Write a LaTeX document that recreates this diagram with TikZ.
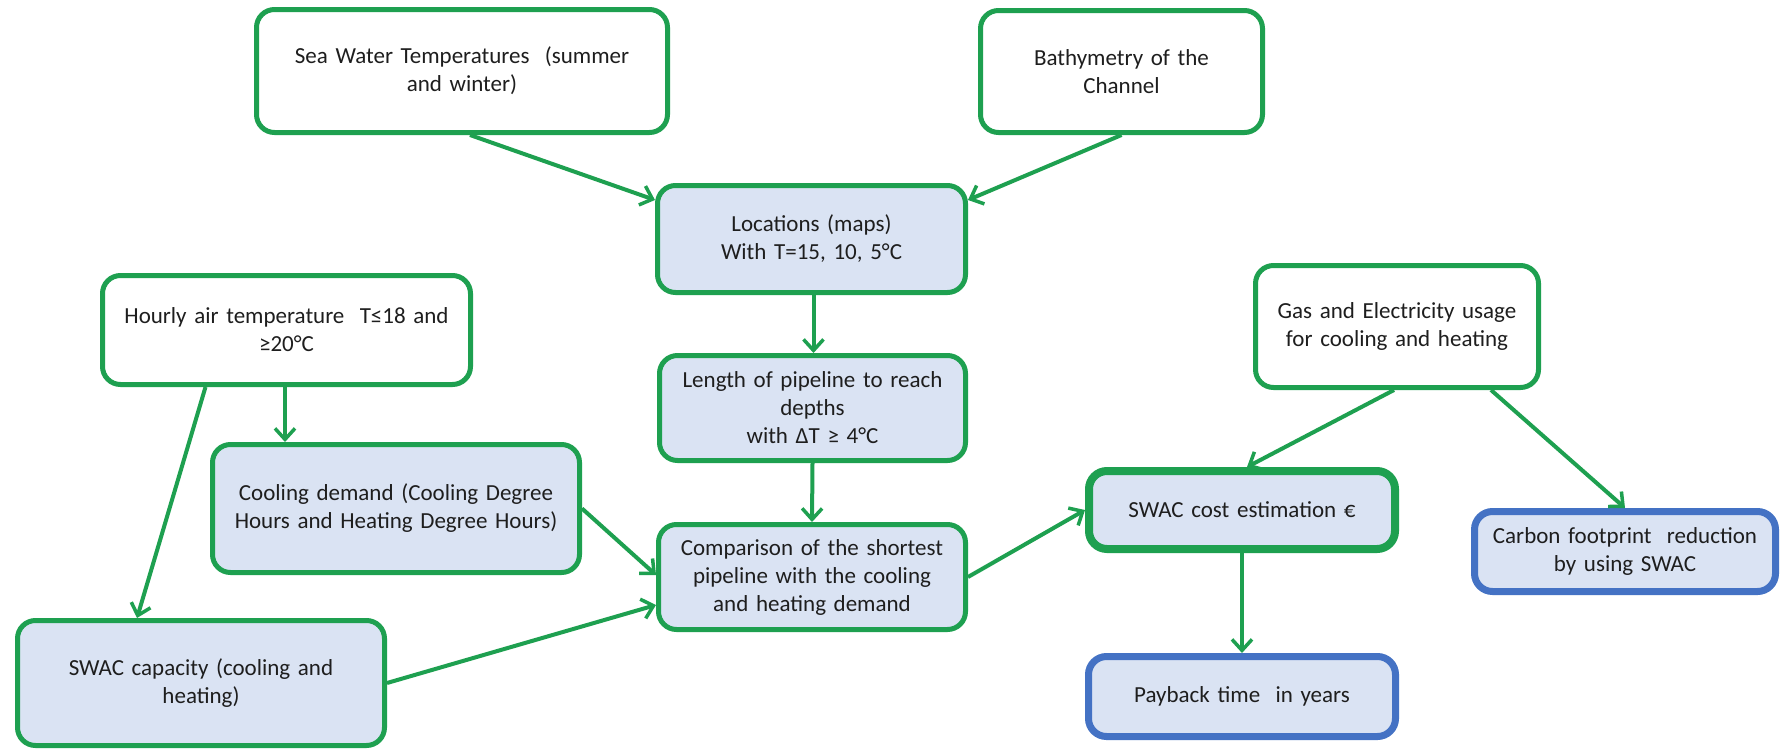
\documentclass[tikz,border=0pt]{standalone}
\usepackage{fontspec}
\setmainfont{Carlito}
\usetikzlibrary{arrows.meta}
\definecolor{boxgreen}{RGB}{30,160,80}
\definecolor{boxfill}{RGB}{218,227,243}
\definecolor{boxblue}{RGB}{68,114,196}
\definecolor{txt}{RGB}{30,30,30}
\begin{document}
\begin{tikzpicture}[x=1pt,y=-1pt,
  box/.style={draw=boxgreen, line width=5pt, rounded corners=18pt, rectangle,
    inner sep=0pt, align=center, text=txt,
    font=\fontsize{23}{28}\selectfont},
  whitebox/.style={box, fill=white},
  bluefill/.style={box, fill=boxfill},
  thickbox/.style={bluefill, line width=8pt},
  bluebox/.style={bluefill, draw=boxblue, line width=7pt},
  conn/.style={draw=boxgreen, line width=4pt,
    -{Straight Barb[length=11pt,width=20pt,line width=3.5pt]}}
]
\useasboundingbox[fill=white] (0,0) rectangle (1781,750);

\node[whitebox, minimum width=411pt, minimum height=123pt, text width=400pt] (sea) at (462,71)
  {Sea Water Temperatures\ \ (summer\\and winter)};
\node[whitebox, minimum width=282pt, minimum height=122pt, text width=270pt] (bath) at (1121.5,71.5)
  {Bathymetry of the\\Channel};
\node[bluefill, minimum width=308pt, minimum height=107pt, text width=296pt] (loc) at (811.5,239)
  {Locations (maps)\\With T=15, 10, 5°C};
\node[whitebox, minimum width=368pt, minimum height=109pt, text width=356pt] (hourly) at (286.5,330)
  {Hourly air temperature\ \ T≤18 and\\≥20°C};
\node[whitebox, minimum width=283pt, minimum height=122pt, text width=272pt] (gas) at (1397,326.5)
  {Gas and Electricity usage\\for cooling and heating};
\node[bluefill, minimum width=306pt, minimum height=105pt, text width=296pt] (len) at (812.5,408)
  {Length of pipeline to reach\\depths\\with ΔT ≥ 4°C};
\node[bluefill, minimum width=367pt, minimum height=128pt, text width=356pt] (cool) at (396,508.5)
  {Cooling demand (Cooling Degree\\Hours and Heating Degree Hours)};
\node[bluefill, minimum width=307pt, minimum height=105pt, text width=296pt] (comp) at (812,577)
  {Comparison of the shortest\\pipeline with the cooling\\and heating demand};
\node[bluefill, minimum width=367pt, minimum height=125pt, text width=356pt] (cap) at (201,683)
  {SWAC capacity (cooling and\\heating)};
\node[thickbox, minimum width=306pt, minimum height=78pt, text width=290pt] (cost) at (1242,510)
  {SWAC cost estimation €};
\node[bluebox, minimum width=307pt, minimum height=80pt, text width=290pt] (pay) at (1242,696.5)
  {Payback time\ \ in years};
\node[bluebox, minimum width=301pt, minimum height=80pt, text width=290pt] (carbon) at (1625,551.5)
  {Carbon footprint\ \ reduction\\by using SWAC};

\draw[conn] ([xshift=8pt]sea.south) -- ([yshift=-17pt]loc.north west);
\draw[conn] (bath.south) -- ([yshift=-17pt]loc.north east);
\draw[conn] ([xshift=2pt]loc.south) -- ([xshift=1pt]len.north);
\draw[conn] (len.south) -- (comp.north);
\draw[conn] ([xshift=-1.5pt]hourly.south) -- ([xshift=-1.5pt]hourly.south |- cool.north);
\draw[conn] ([xshift=-81pt]hourly.south) -- ([xshift=-64pt]cap.north);
\draw[conn] (cool.east) -- ([yshift=2pt]comp.west);
\draw[conn] (cap.east) -- ([yshift=-28pt]comp.west);
\draw[conn] (comp.east) -- (cost.west);
\draw[conn] ([xshift=-3pt]gas.south) -- ([xshift=5pt]cost.north);
\draw[conn] ([xshift=94pt]gas.south) -- (carbon.north);
\draw[conn] (cost.south) -- (pay.north);
\end{tikzpicture}
\end{document}
